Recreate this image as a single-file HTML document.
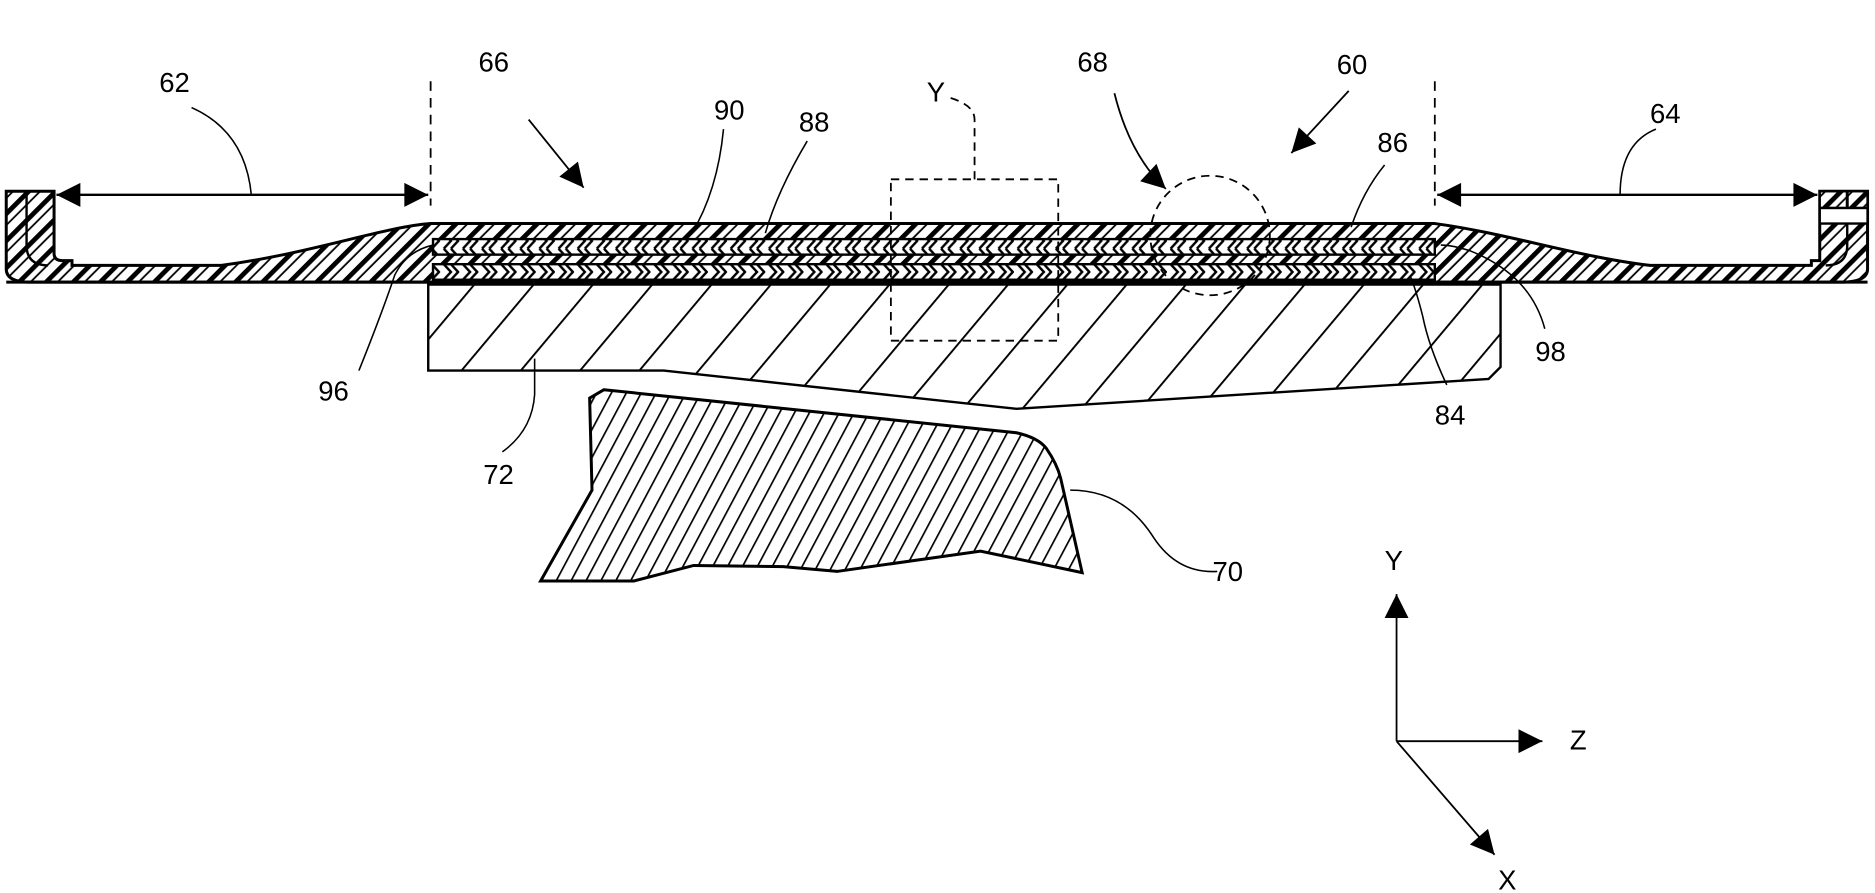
<!DOCTYPE html>
<html><head><meta charset="utf-8"><style>
html,body{margin:0;padding:0;background:#fff;}
svg{display:block;}
text{font-family:"Liberation Sans",sans-serif;font-size:23px;fill:#000;}
</style></head><body>
<svg width="1875" height="893" viewBox="0 0 1568 747" xmlns="http://www.w3.org/2000/svg">
<defs>
<pattern id="skin" patternUnits="userSpaceOnUse" width="16" height="16" patternTransform="rotate(45)">
<rect width="16" height="16" fill="#fff"/><rect x="0" y="0" width="4" height="16" fill="#000"/><rect x="8" y="0" width="1.5" height="16" fill="#000"/>
</pattern>
<pattern id="h72" patternUnits="userSpaceOnUse" width="38" height="38" patternTransform="rotate(40)">
<rect width="38" height="38" fill="#fff"/><rect x="0" y="0" width="1.6" height="38" fill="#000"/>
</pattern>
<pattern id="h70" patternUnits="userSpaceOnUse" width="11" height="11" patternTransform="rotate(28)">
<rect width="11" height="11" fill="#fff"/><rect x="0" y="0" width="1.4" height="11" fill="#000"/>
</pattern>
<pattern id="chev" patternUnits="userSpaceOnUse" width="16" height="13">
<rect width="16" height="13" fill="#fff"/><path d="M3,0 L9,6.5 L3,13 M9,0 L15,6.5 L9,13" stroke="#000" stroke-width="2" fill="none"/>
</pattern>
<marker id="big" viewBox="0 0 10 10" refX="10" refY="5" markerWidth="28" markerHeight="20" markerUnits="userSpaceOnUse" orient="auto-start-reverse">
<path d="M0,0 L10,5 L0,10 Z" fill="#000"/>
</marker>
</defs>

<!-- panel -->
<path d="M5,160 H45 V212 Q45,218 52,218 H60 V222 H185 C260,212 320,190 360,187 H1200 C1260,195 1320,215 1380,222 H1515 V218 H1522 V160 H1562 V225 Q1562,236 1540,236 H25 Q5,236 5,225 Z" fill="url(#skin)" stroke="#000" stroke-width="2.5"/>
<path d="M22,160 V205 Q22,222 40,222" fill="none" stroke="#000" stroke-width="2"/>
<path d="M1545,160 V205 Q1545,222 1527,222" fill="none" stroke="#000" stroke-width="2"/>
<rect x="1522" y="160" width="40" height="14" fill="url(#skin)" stroke="#000" stroke-width="2"/>
<rect x="1522" y="174" width="40" height="13" fill="#fff" stroke="#000" stroke-width="2"/>
<line x1="1545" y1="160" x2="1545" y2="174" stroke="#000" stroke-width="2.5"/>

<!-- central layers -->
<rect x="362" y="200" width="838" height="13" fill="url(#chev)" stroke="#000" stroke-width="2"/>
<rect x="362" y="221" width="838" height="13" fill="url(#chev)" stroke="#000" stroke-width="2"/>
<line x1="360" y1="187" x2="1200" y2="187" stroke="#000" stroke-width="2.5"/>
<line x1="5" y1="236" x2="1562" y2="236" stroke="#000" stroke-width="2.5"/>

<!-- block 72 -->
<path d="M358,238 H1255 V307 L1245,317 L850,342 L555,310 H358 Z" fill="url(#h72)" stroke="#000" stroke-width="2"/>
<!-- block 70 -->
<path d="M505,326 L850,362 Q868,366 875,375 Q884,388 887,400 L905,479 L820,461 L700,478 L655,474 L580,473 L530,486 L452,486 L495,410 L493,333 Z" fill="url(#h70)" stroke="#000" stroke-width="2.5"/>

<!-- dashed lines -->
<line x1="360" y1="68" x2="360" y2="172" stroke="#000" stroke-width="1.5" stroke-dasharray="8,6"/>
<line x1="1200" y1="68" x2="1200" y2="172" stroke="#000" stroke-width="1.5" stroke-dasharray="8,6"/>
<rect x="745" y="150" width="140" height="135" fill="none" stroke="#000" stroke-width="1.5" stroke-dasharray="7,5"/>
<circle cx="1012" cy="197" r="50" fill="none" stroke="#000" stroke-width="1.5" stroke-dasharray="7,5"/>
<path d="M795,82 Q815,88 815,100 V150" fill="none" stroke="#000" stroke-width="1.5" stroke-dasharray="7,5"/>

<!-- dimension arrows -->
<line x1="47" y1="163" x2="358" y2="163" stroke="#000" stroke-width="2" marker-start="url(#big)" marker-end="url(#big)"/>
<line x1="1202" y1="163" x2="1520" y2="163" stroke="#000" stroke-width="2" marker-start="url(#big)" marker-end="url(#big)"/>

<!-- reference arrows -->
<path d="M442,100 L488,157" stroke="#000" stroke-width="1.5" fill="none" marker-end="url(#big)"/>
<path d="M932,78 Q945,130 975,158" stroke="#000" stroke-width="1.5" fill="none" marker-end="url(#big)"/>
<path d="M1128,76 L1080,128" stroke="#000" stroke-width="1.5" fill="none" marker-end="url(#big)"/>

<!-- leaders -->
<g fill="none" stroke="#000" stroke-width="1.3">
<path d="M160,90 Q205,110 210,163"/>
<path d="M1385,108 Q1355,120 1355,163"/>
<path d="M605,108 Q600,160 578,196"/>
<path d="M675,118 Q650,160 640,195"/>
<path d="M1158,138 Q1140,160 1130,190"/>
<path d="M300,310 Q320,260 330,230 Q340,210 362,205"/>
<path d="M1292,275 Q1280,230 1230,210 Q1215,205 1205,205"/>
<path d="M1210,322 Q1195,290 1190,265 Q1185,245 1180,232"/>
<path d="M420,378 Q445,360 447,330 L447,300"/>
<path d="M1018,478 Q985,480 965,450 Q940,410 895,410"/>
</g>

<!-- axes -->
<g stroke="#000" stroke-width="1.5" fill="none">
<line x1="1168" y1="620" x2="1168" y2="497" marker-end="url(#big)"/>
<line x1="1168" y1="620" x2="1290" y2="620" marker-end="url(#big)"/>
<line x1="1168" y1="620" x2="1250" y2="715" marker-end="url(#big)"/>
</g>

<!-- labels -->
<text x="133" y="77">62</text>
<text x="400" y="60">66</text>
<text x="597" y="100">90</text>
<text x="668" y="110">88</text>
<text x="775" y="85">Y</text>
<text x="901" y="60">68</text>
<text x="1118" y="62">60</text>
<text x="1152" y="127">86</text>
<text x="1380" y="103">64</text>
<text x="266" y="335">96</text>
<text x="404" y="405">72</text>
<text x="1284" y="302">98</text>
<text x="1200" y="355">84</text>
<text x="1014" y="486">70</text>
<text x="1158" y="477">Y</text>
<text x="1313" y="627">Z</text>
<text x="1253" y="744">X</text>
</svg>
</body></html>
